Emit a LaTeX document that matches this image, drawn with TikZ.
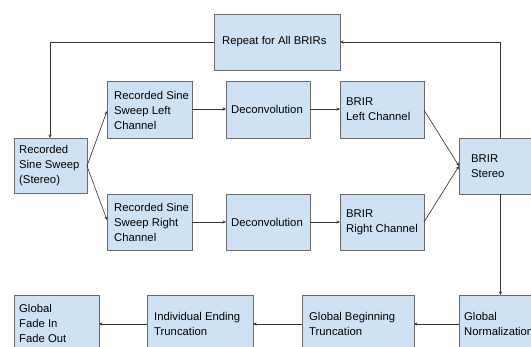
\documentclass[tikz,border=0pt]{standalone}
\usepackage{fontspec}
\setmainfont{Liberation Sans}
\usetikzlibrary{arrows.meta}
\definecolor{boxfill}{HTML}{CFE2F3}
\definecolor{boxline}{HTML}{6B6B6B}
\definecolor{lineclr}{HTML}{333333}
\tikzset{
  box/.style={draw=boxline, fill=boxfill, line width=0.8pt, rectangle},
  lbl/.style={anchor=west, align=left, inner sep=0pt, font=\fontsize{11.3}{15}\selectfont, text=black},
  cbl/.style={anchor=center, align=center, inner sep=0pt, font=\fontsize{11.3}{15}\selectfont, text=black},
  conn/.style={draw=lineclr, line width=0.6pt, -{Stealth[length=3.5pt,width=3pt]}},
}
\begin{document}
\begin{tikzpicture}[x=1pt,y=-1pt]
\path[use as bounding box, clip] (0,0) rectangle (531,347);
\fill[white] (0,0) rectangle (531,347);
% boxes
\draw[box] (214,14) rectangle (340,70);
\node[lbl] (trepeat) at (222,42) {Repeat for All BRIRs};
\coordinate (repeatL) at (214,42);
\coordinate (repeatR) at (340,42);

\draw[box] (14,138) rectangle (87,193);
\node[lbl] (tstereo) at (19,166) {Recorded\\Sine Sweep\\(Stereo)};
\coordinate (stereoT) at (50,138);
\coordinate (stereoR) at (87,166);

\draw[box] (107,81) rectangle (192,138);
\node[lbl] (trssl) at (114,110) {Recorded Sine\\Sweep Left\\Channel};
\coordinate (rsslL) at (107,111);
\coordinate (rsslR) at (192,109);

\draw[box] (226,81) rectangle (310,138);
\node[cbl] (tdecl) at (267,109) {Deconvolution};
\coordinate (declL) at (226,109);
\coordinate (declR) at (310,109);

\draw[box] (340,81) rectangle (424,138);
\node[lbl] (tbrirl) at (346,109) {BRIR\\Left Channel};
\coordinate (brirlL) at (340,109);
\coordinate (brirlR) at (424,110);

\draw[box] (459,138) rectangle (545,194);
\node[lbl] (tstereob) at (471,166) {BRIR\\Stereo};
\coordinate (bsL) at (459,166);
\coordinate (bsT) at (500.5,138);
\coordinate (bsB) at (500.5,194);

\draw[box] (107,194) rectangle (192,250);
\node[lbl] (trssr) at (114,222) {Recorded Sine\\Sweep Right\\Channel};
\coordinate (rssrL) at (107,220);
\coordinate (rssrR) at (192,222);

\draw[box] (226,194) rectangle (310,250);
\node[cbl] (tdecr) at (267,222) {Deconvolution};
\coordinate (decrL) at (226,222);
\coordinate (decrR) at (310,222);

\draw[box] (340,194) rectangle (424,250);
\node[lbl] (tbrirr) at (346,222) {BRIR\\Right Channel};
\coordinate (brirrL) at (340,222);
\coordinate (brirrR) at (424,222);

\draw[box] (14,295) rectangle (99,351);
\node[lbl] (tfade) at (19,323) {Global\\Fade In\\Fade Out};
\coordinate (fadeR) at (99,324);

\draw[box] (147,295) rectangle (253,351);
\node[lbl] (tiet) at (154,324) {Individual Ending\\Truncation};
\coordinate (ietL) at (147,324);
\coordinate (ietR) at (253,324);

\draw[box] (302,295) rectangle (414,351);
\node[lbl] (tgbt) at (309,324) {Global Beginning\\Truncation};
\coordinate (gbtL) at (302,324);
\coordinate (gbtR) at (414,324);

\draw[box] (459,295) rectangle (560,351);
\node[lbl] (tgn) at (464,324) {Global\\Normalization};
\coordinate (gnL) at (459,324);
\coordinate (gnT) at (500.5,295);

% connectors
\draw[conn] (bsT) |- (repeatR);
\draw[conn] (repeatL) -| (stereoT);
\draw[conn] (stereoR) -- (rsslL);
\draw[conn] (stereoR) -- (rssrL);
\draw[conn] (rsslR) -- (declL);
\draw[conn] (declR) -- (brirlL);
\draw[conn] (rssrR) -- (decrL);
\draw[conn] (decrR) -- (brirrL);
\draw[conn] (brirlR) -- (bsL);
\draw[conn] (brirrR) -- (bsL);
\draw[conn] (bsB) -- (gnT);
\draw[conn] (gnL) -- (gbtR);
\draw[conn] (gbtL) -- (ietR);
\draw[conn] (ietL) -- (fadeR);
\end{tikzpicture}
\end{document}
